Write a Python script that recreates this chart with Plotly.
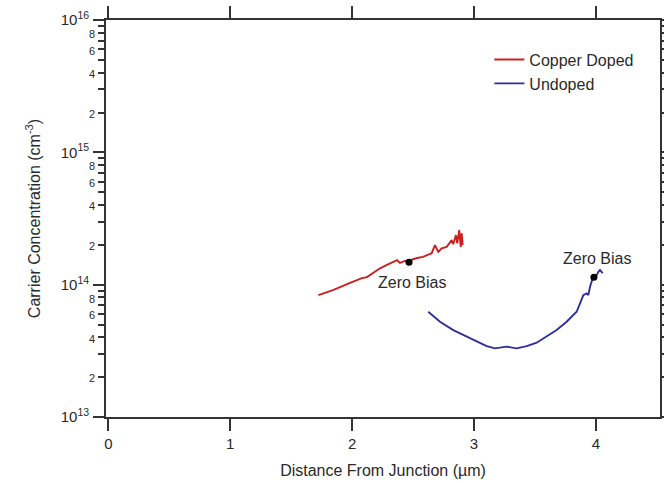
import plotly.graph_objects as go
import math

# ---- data ----
cu_x = [1.723, 1.843, 1.983, 2.081, 2.122, 2.172, 2.229, 2.286, 2.327, 2.368, 2.393, 2.434,
        2.475, 2.533, 2.582, 2.623, 2.653, 2.680, 2.707, 2.735, 2.776, 2.817, 2.830, 2.852,
        2.863, 2.879, 2.891, 2.899, 2.907]
cu_y = [8.34e13, 9.10e13, 1.03e14, 1.12e14, 1.14e14, 1.22e14, 1.33e14, 1.41e14, 1.46e14,
        1.53e14, 1.46e14, 1.51e14, 1.53e14, 1.59e14, 1.62e14, 1.67e14, 1.73e14, 1.99e14,
        1.77e14, 1.88e14, 1.93e14, 2.17e14, 2.02e14, 2.37e14, 2.05e14, 2.59e14, 1.93e14,
        2.44e14, 1.99e14]

ud_x = [2.625, 2.721, 2.830, 2.912, 3.022, 3.104, 3.172, 3.268, 3.350, 3.432, 3.514, 3.596,
        3.678, 3.760, 3.842, 3.870, 3.897, 3.924, 3.938, 3.952, 3.974, 4.007, 4.020, 4.034,
        4.056]
ud_y = [6.24e13, 5.25e13, 4.54e13, 4.16e13, 3.70e13, 3.43e13, 3.30e13, 3.40e13, 3.30e13,
        3.43e13, 3.64e13, 4.04e13, 4.54e13, 5.25e13, 6.24e13, 7.22e13, 8.34e13, 8.60e13,
        8.34e13, 9.64e13, 1.12e14, 1.18e14, 1.25e14, 1.29e14, 1.22e14]

zb_x = [2.467, 3.984]
zb_y = [1.48e14, 1.14e14]
zb_label_x = [2.49, 4.008]
zb_label_y = [1.03e14, 1.59e14]
zb_text = ["Zero Bias", "Zero Bias"]

x_ticks = [0, 1, 2, 3, 4]
decades = [13, 14, 15, 16]
minor_labeled = [2, 4, 6, 8]
minor_unlabeled = [3, 5, 7, 9]

FONT = "Liberation Sans, Arial, sans-serif"
TXT = "#2a2a2a"
AX = "#333333"

fig = go.Figure()
fig.add_trace(go.Scatter(x=cu_x, y=cu_y, mode="lines", name="Copper Doped",
                         line=dict(color="#cc2020", width=1.9)))
fig.add_trace(go.Scatter(x=ud_x, y=ud_y, mode="lines", name="Undoped",
                         line=dict(color="#2f2f9c", width=1.9)))
fig.add_trace(go.Scatter(x=zb_x, y=zb_y, mode="markers", showlegend=False,
                         marker=dict(symbol="circle", size=7, color="black")))

for lx, ly, t in zip(zb_label_x, zb_label_y, zb_text):
    fig.add_annotation(x=lx, y=math.log10(ly), text=t, showarrow=False,
                       font=dict(family=FONT, size=16, color=TXT))

# labelled ticks: decades (big) + 2,4,6,8 (small)
tick_vals, tick_text = [], []
for d in decades:
    tick_vals.append(10.0 ** d)
    tick_text.append("10<sup>%d</sup>\u2009\u2009" % d)
    if d < decades[-1]:
        for m in minor_labeled:
            tick_vals.append(m * 10.0 ** d)
            tick_text.append('<span style="font-size:11px">%d</span>' % m)
minor_vals = [m * 10.0 ** d for d in decades[:-1] for m in minor_unlabeled]

fig.update_layout(
    template="none",
    width=664, height=483,
    margin=dict(l=106, r=4, t=20, b=66),
    paper_bgcolor="white", plot_bgcolor="white",
    font=dict(family=FONT, color=TXT),
    xaxis=dict(
        range=[-0.019, 4.526], tickvals=x_ticks, ticks="outside", ticklen=12,
        tickwidth=1.8, tickcolor=AX, showline=True, linecolor=AX, linewidth=1.8,
        mirror="ticks", showgrid=False, zeroline=False, automargin=False,
        tickfont=dict(size=15, color=TXT),
        title=dict(text="Distance From Junction (µm)", font=dict(size=16, color=TXT), standoff=14),
    ),
    yaxis=dict(
        type="log", range=[13, 16], tickvals=tick_vals, ticktext=tick_text,
        ticks="outside", ticklen=6, tickwidth=1.6, tickcolor=AX,
        showline=True, linecolor=AX, linewidth=1.8, mirror="ticks",
        showgrid=False, zeroline=False, automargin=False, tickfont=dict(size=15, color=TXT),
        minor=dict(tickvals=minor_vals, ticks="outside", ticklen=6, tickwidth=1.5,
                   tickcolor=AX, showgrid=False),
        title=dict(text="Carrier Concentration (cm<sup>-3</sup>)", font=dict(size=16, color=TXT),
                   standoff=16),
    ),
    yaxis2=dict(
        type="log", range=[13, 16], overlaying="y", side="left", anchor="x",
        tickvals=[10.0 ** d for d in decades], showticklabels=False,
        ticks="outside", ticklen=12, tickwidth=1.8, tickcolor=AX, mirror="ticks",
        showline=False, showgrid=False, zeroline=False, automargin=False,
    ),
    legend=dict(x=0.692, y=0.943, xanchor="left", yanchor="top",
                bgcolor="rgba(0,0,0,0)", borderwidth=0,
                font=dict(size=16, color=TXT), tracegroupgap=0, itemwidth=30),
    showlegend=True,
)
# invisible trace so the overlay axis (long decade ticks) is drawn
fig.add_trace(go.Scatter(x=[None], y=[None], yaxis="y2", showlegend=False, hoverinfo="skip"))

fig.write_html("out.html")
